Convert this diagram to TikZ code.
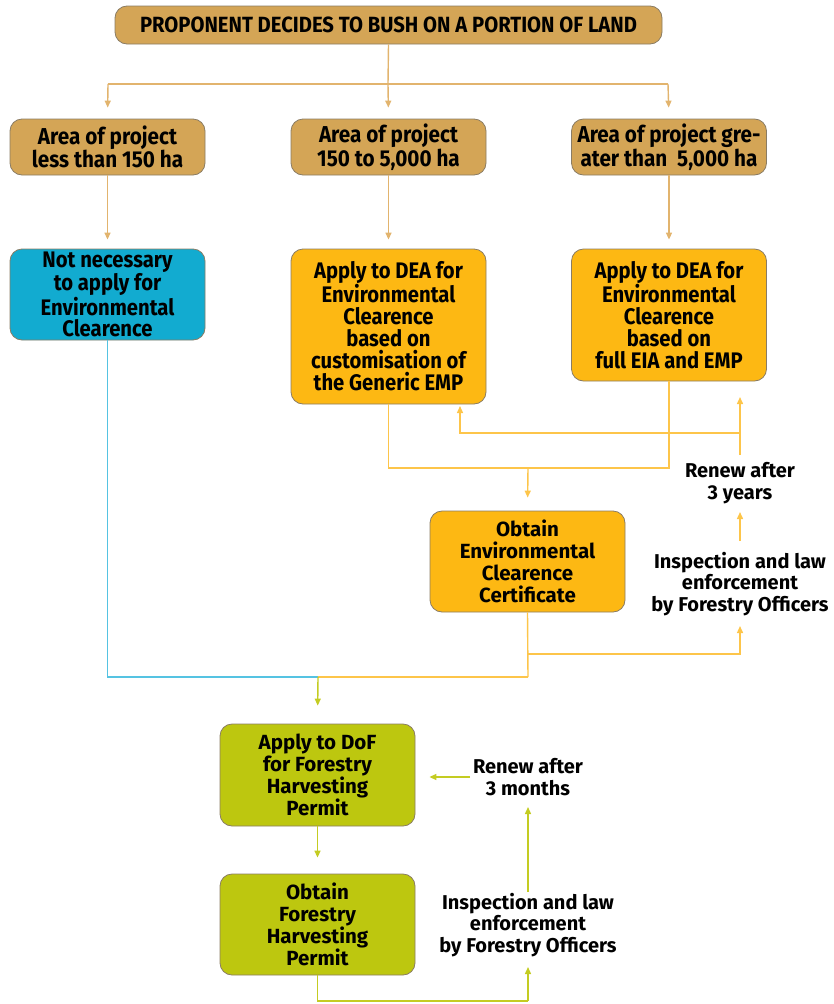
\documentclass[tikz,border=0pt]{standalone}
\usepackage{fontspec}
\setmainfont{Fira Sans}
\newfontfamily\condf[FakeStretch=0.9]{Fira Sans}
\newfontfamily\topf[FakeStretch=0.92]{Fira Sans}
\usetikzlibrary{arrows.meta}
\definecolor{tanfill}{HTML}{D4A556}
\definecolor{orfill}{HTML}{FDB813}
\definecolor{bluefill}{HTML}{12ABD0}
\definecolor{grfill}{HTML}{BDC70F}
\definecolor{boxedge}{HTML}{8A7C64}
\definecolor{tanln}{HTML}{E2B46E}
\definecolor{orln}{HTML}{FDC54A}
\definecolor{blueln}{HTML}{55C3E2}
\definecolor{grln}{HTML}{C4CC22}
\begin{document}
\begin{tikzpicture}[x=1pt,y=-1pt,
  box/.style={draw=boxedge, line width=0.8pt, rounded corners=12pt, inner sep=0pt, align=center, minimum width=195pt},
  condtxt/.style={font=\condf\bfseries\fontsize{22.5}{22}\selectfont},
  bluetxt/.style={font=\condf\bfseries\fontsize{22.5}{21.3}\selectfont},
  rowtwo/.style={font=\condf\bfseries\fontsize{23}{23.5}\selectfont},
  normtxt/.style={font=\bfseries\fontsize{20.5}{22}\selectfont},
  lbl/.style={align=center, inner sep=0pt, font=\bfseries\fontsize{20}{21.5}\selectfont},
  ln/.style={line width=1.4pt},
  tip/.style={-{Triangle[length=7pt,width=6pt]}}
]
\useasboundingbox (0,0) rectangle (833,1004);

% top
\node[box, fill=tanfill, minimum width=547pt, minimum height=38pt, font=\topf\bfseries\fontsize{22}{22}\selectfont] (top) at (388.5,25) {PROPONENT DECIDES TO BUSH ON A PORTION OF LAND};

% row 2
\node[box, fill=tanfill, minimum height=56pt, rowtwo] (a1) at (107.5,147) {Area of project\\less than 150 ha};
\node[box, fill=tanfill, minimum height=56pt, rowtwo] (a2) at (388.5,147) {Area of project\\150 to 5,000 ha};
\node[box, fill=tanfill, minimum height=56pt, rowtwo] (a3) at (669,147) {Area of project gre-\\ater than\ \ 5,000 ha};

% row 3
\node[box, fill=bluefill, minimum height=91pt, bluetxt] (b1) at (107.5,294.5) {Not necessary\\to apply for\\Environmental\\Clearence};
\node[box, fill=orfill, minimum height=155pt, condtxt] (b2) at (388.5,326.5) {Apply to DEA for\\Environmental\\Clearence\\based on\\customisation of\\the Generic EMP};
\node[box, fill=orfill, minimum height=132pt, condtxt] (b3) at (669,315) {Apply to DEA for\\Environmental\\Clearence\\based on\\full EIA and EMP};

% certificate
\node[box, fill=orfill, minimum height=101pt, normtxt] (c) at (527.5,561.5) {Obtain\\Environmental\\Clearence\\Certificate};

% right labels (upper)
\node[lbl] (r1) at (740,483) {Renew after\\3 years};
\node[lbl] (i1) at (740,584) {Inspection and law\\enforcement\\by Forestry Officers};

% green boxes
\node[box, fill=grfill, minimum height=102pt, normtxt] (d) at (317.5,775) {Apply to DoF\\for Forestry\\Harvesting\\Permit};
\node[box, fill=grfill, minimum height=101pt, normtxt] (e) at (317.5,924.5) {Obtain\\Forestry\\Harvesting\\Permit};

% lower labels
\node[lbl] (r2) at (528,777) {Renew after\\3 months};
\node[lbl] (i2) at (528,925) {Inspection and law\\enforcement\\by Forestry Officers};

% coordinates
\coordinate (h1) at (108,84);
\coordinate (h2) at (388,84);
\coordinate (h3) at (668,84);
\coordinate (jc) at (528,468);
\coordinate (f1) at (740,455);
\coordinate (f2) at (740,433);
\coordinate (f3) at (740,397);
\coordinate (f4) at (460,406);
\coordinate (jd) at (528,677);
\coordinate (je) at (528,654);
\coordinate (jm) at (318,677);
\coordinate (jg) at (528,1001);
\coordinate (u1) at (740,541);
\coordinate (u2) at (740,512);
\coordinate (u3) at (740,626);
\coordinate (l1) at (528,892);
\coordinate (l2) at (528,807);
\coordinate (l3) at (528,967);
\coordinate (l4) at (470,777);

% tan connectors
\draw[ln, tanln] (top.south) -- (h2);
\draw[ln, tanln] (h1) -- (h3);
\draw[ln, tanln, tip, shorten >=11pt] (h2) -- (a2.north);
\draw[ln, tanln, tip, shorten >=11pt] (h1) -- (a1.north);
\draw[ln, tanln, tip, shorten >=11pt] (h3) -- (a3.north);
\draw[ln, tanln, tip, shorten >=9pt] (a1.south) -- (b1.north);
\draw[ln, tanln, tip, shorten >=9pt] (a2.south) -- (b2.north);
\draw[ln, tanln, tip, shorten >=9pt] (a3.south) -- (b3.north);

% orange connectors
\draw[ln, orln] (b2.south) |- (jc);
\draw[ln, orln] (b3.south) |- (jc);
\draw[ln, orln, tip, shorten >=13pt] (jc) -- (c.north);
\draw[ln, orln, tip] (f1) -- (f3);
\draw[ln, orln, tip] (f2) -| (f4);
\draw[ln, orln, tip] (u1) -- (u2);
\draw[ln, orln] (c.south) -- (jd);
\draw[ln, orln, tip] (je) -| (u3);
\draw[ln, orln] (jd) -- (jm);

% blue connector
\draw[ln, blueln] (b1.south) |- (jm);

% green connectors
\draw[ln, grln, tip, shorten >=18pt] (jm) -- (d.north);
\draw[ln, grln, tip, shorten >=16pt] (d.south) -- (e.north);
\draw[ln, grln] (e.south) |- (jg);
\draw[ln, grln, tip] (jg) -- (l3);
\draw[ln, grln, tip] (l1) -- (l2);
\draw[ln, grln, tip, shorten >=14pt] (l4) -- (d.east |- l4);
\end{tikzpicture}
\end{document}
